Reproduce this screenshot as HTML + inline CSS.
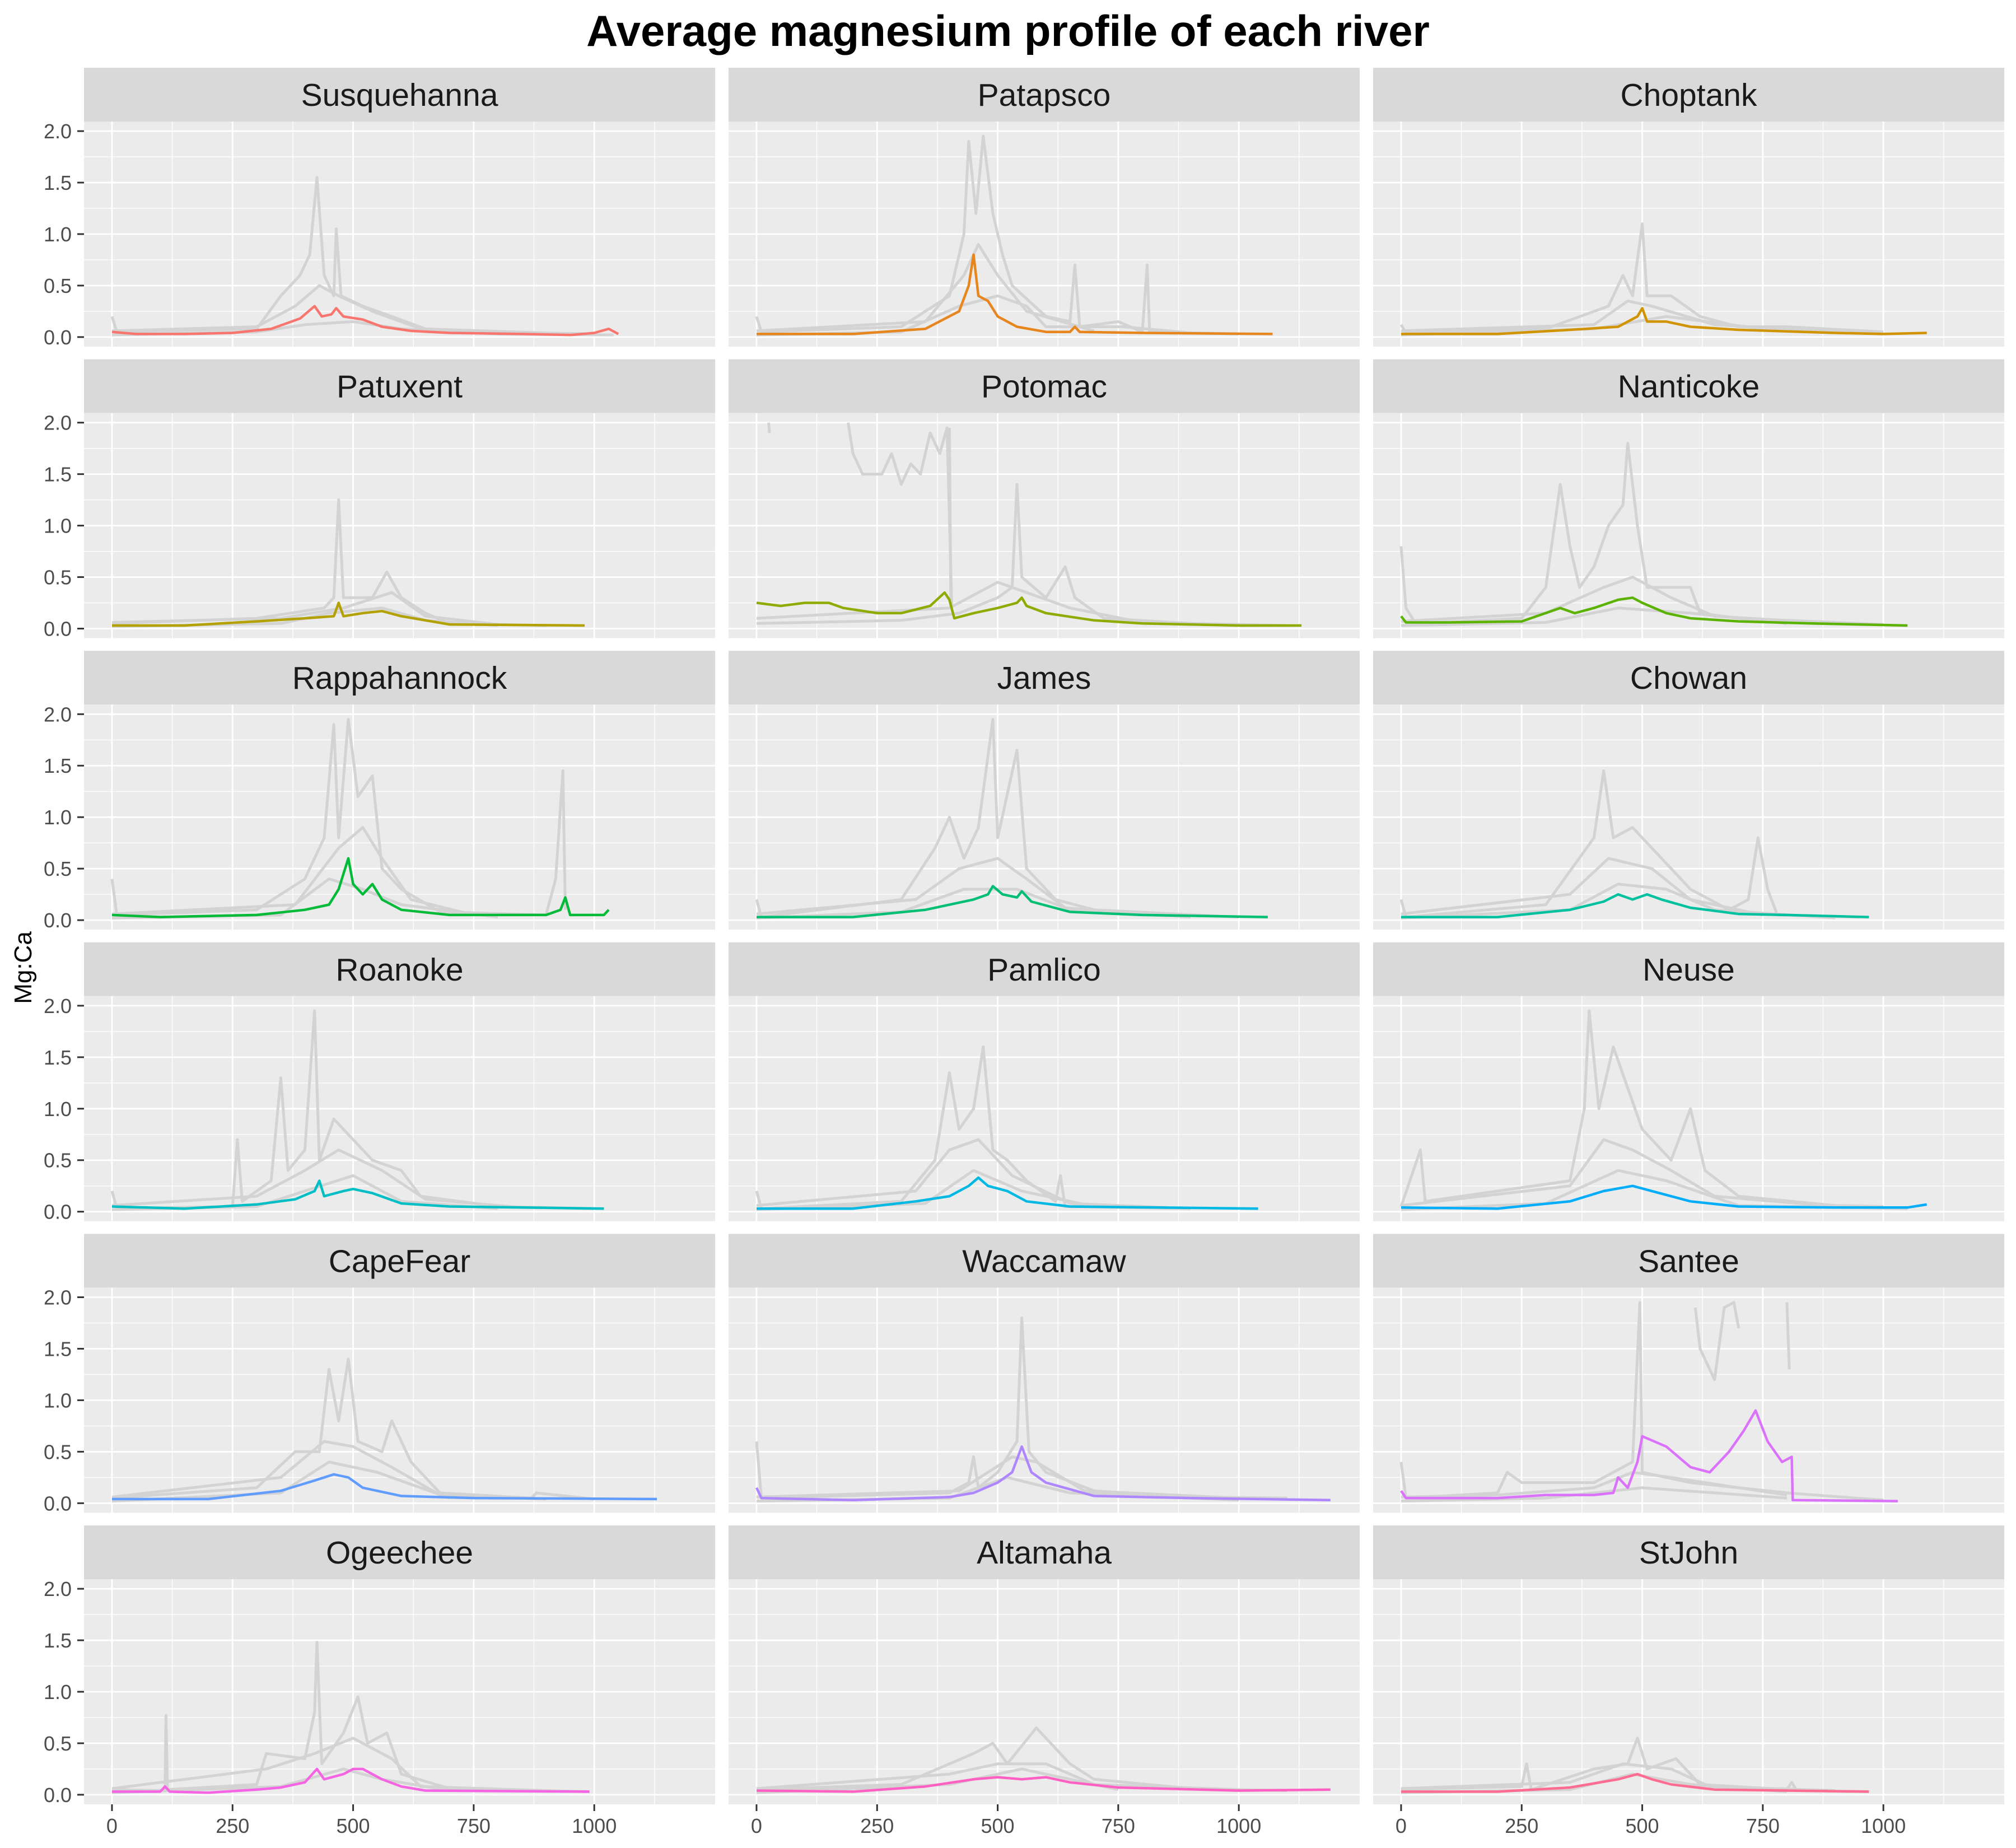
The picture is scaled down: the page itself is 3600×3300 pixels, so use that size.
<!DOCTYPE html>
<html><head><meta charset="utf-8"><style>
html,body{margin:0;padding:0;background:#fff;}
svg{display:block;font-family:"Liberation Sans",sans-serif;}
</style></head><body>
<svg id="chart" width="3600" height="3300" viewBox="0 0 3600 3300" xmlns="http://www.w3.org/2000/svg">
<rect width="3600" height="3300" fill="#fff"/>
<text x="1800" y="82" text-anchor="middle" font-size="78" font-weight="bold" fill="#000">Average magnesium profile of each river</text>
<text transform="translate(56,1728) rotate(-90)" text-anchor="middle" font-size="44" fill="#000">Mg:Ca</text>
<g id="panels"></g>
</svg>
<script>
const rivers = ["Susquehanna","Patapsco","Choptank","Patuxent","Potomac","Nanticoke","Rappahannock","James","Chowan","Roanoke","Pamlico","Neuse","CapeFear","Waccamaw","Santee","Ogeechee","Altamaha","StJohn"];
const riverColors = ["#F8766D","#E7851E","#D09400","#B2A100","#8EAB00","#5BB300","#00BA38","#00BF74","#00C19F","#00BFC4","#00B9E3","#00ADFA","#619CFF","#AE87FF","#DB72FB","#F564E3","#FF61C3","#FF6C91"];
const xTicks = [0,250,500,750,1000];
const xTickLabels = ["0","250","500","750","1000"];
const yTicks = [0,0.5,1,1.5,2];
const yTickLabels = ["0.0","0.5","1.0","1.5","2.0"];
const meanSeries = [
[[0,.05],[50,.03],[150,.03],[250,.04],[330,.08],[390,.18],[420,.3],[435,.2],[455,.22],[465,.28],[480,.2],[520,.17],[560,.1],[620,.06],[700,.04],[850,.03],[950,.02],[1000,.04],[1030,.08],[1050,.03]],
[[0,.03],[200,.03],[350,.08],[420,.25],[440,.5],[450,.8],[460,.4],[480,.35],[500,.2],[540,.1],[600,.05],[650,.05],[660,.1],[670,.05],[800,.04],[1070,.03]],
[[0,.03],[200,.03],[350,.07],[450,.1],[490,.2],[500,.28],[510,.15],[550,.15],[600,.1],[700,.07],[900,.04],[1000,.03],[1090,.04]],
[[0,.03],[150,.03],[300,.07],[400,.1],[460,.12],[470,.25],[480,.12],[520,.15],[560,.17],[600,.12],[700,.04],[980,.03]],
[[0,.25],[50,.22],[100,.25],[150,.25],[180,.2],[250,.15],[300,.15],[360,.22],[390,.35],[400,.28],[410,.1],[450,.15],[500,.2],[540,.25],[550,.3],[560,.22],[600,.15],[700,.08],[800,.05],[1000,.03],[1130,.03]],
[[0,.12],[10,.06],[100,.06],[250,.07],[330,.2],[360,.15],[400,.2],[450,.28],[480,.3],[500,.25],[550,.15],[600,.1],[700,.07],[850,.05],[1050,.03]],
[[0,.05],[100,.03],[300,.05],[400,.1],[450,.15],[470,.3],[490,.6],[500,.35],[520,.25],[540,.35],[560,.2],[600,.1],[700,.05],[900,.05],[930,.1],[940,.22],[950,.05],[1020,.05],[1030,.1]],
[[0,.03],[200,.03],[350,.1],[450,.2],[480,.25],[490,.33],[510,.25],[540,.22],[550,.28],[570,.18],[650,.08],[800,.05],[1060,.03]],
[[0,.03],[200,.03],[350,.1],[420,.18],[450,.25],[480,.2],[510,.25],[540,.2],[600,.12],[700,.06],[800,.05],[970,.03]],
[[0,.05],[150,.03],[300,.07],[380,.12],[420,.2],[430,.3],[440,.15],[480,.2],[500,.22],[540,.18],[600,.08],[700,.05],[1020,.03]],
[[0,.03],[200,.03],[330,.1],[400,.15],[440,.25],[460,.33],[480,.25],[520,.2],[560,.1],[650,.05],[1040,.03]],
[[0,.04],[200,.03],[350,.1],[420,.2],[480,.25],[520,.2],[600,.1],[700,.05],[900,.04],[1050,.04],[1090,.07]],
[[0,.04],[200,.04],[350,.12],[420,.22],[460,.28],[490,.25],[520,.15],[600,.07],[750,.05],[1130,.04]],
[[0,.15],[10,.05],[200,.03],[400,.06],[450,.1],[500,.2],[530,.3],[550,.55],[570,.3],[600,.2],[700,.07],[900,.05],[1190,.03]],
[[0,.12],[10,.05],[200,.05],[300,.08],[400,.08],[440,.1],[450,.25],[470,.15],[490,.4],[500,.65],[550,.55],[600,.35],[640,.3],[680,.5],[710,.7],[735,.9],[760,.6],[790,.4],[810,.45],[812,.03],[1030,.02]],
[[0,.03],[100,.03],[110,.08],[120,.03],[200,.02],[300,.05],[350,.07],[400,.12],[425,.25],[440,.15],[480,.2],[500,.25],[520,.25],[560,.15],[600,.08],[650,.04],[990,.03]],
[[0,.04],[200,.03],[350,.08],[450,.15],[500,.17],[550,.15],[600,.17],[650,.12],[750,.07],[1000,.04],[1190,.05]],
[[0,.03],[200,.03],[350,.07],[450,.15],[490,.2],[520,.15],[560,.1],[650,.05],[970,.03]]
];
const graySeries = [
[[[0,.2],[10,.05],[300,.08],[350,.4],[390,.6],[410,.8],[425,1.55],[440,.6],[460,.4],[465,1.05],[475,.4],[520,.3],[580,.2],[650,.08],[800,.05],[1000,.03]],[[0,.02],[300,.05],[400,.12],[500,.15],[600,.08],[800,.03],[1040,.02]],[[0,.06],[300,.1],[380,.3],[430,.5],[470,.4],[540,.25],[640,.08],[900,.04]]],
[[[0,.2],[10,.05],[300,.1],[400,.4],[430,1.0],[440,1.9],[455,1.2],[470,1.95],[490,1.2],[510,.8],[530,.5],[600,.2],[650,.15],[660,.7],[670,.1],[750,.15],[800,.05],[810,.7],[815,.05],[1000,.03]],[[0,.02],[300,.05],[420,.3],[500,.4],[560,.3],[600,.1],[760,.1],[900,.04]],[[0,.06],[350,.15],[430,.6],[460,.9],[500,.6],[560,.25],[700,.06]]],
[[[0,.12],[10,.04],[300,.08],[430,.3],[460,.6],[480,.4],[500,1.1],[510,.4],[560,.4],[620,.2],[700,.1],[800,.1],[1000,.05]],[[0,.02],[400,.08],[550,.2],[750,.08],[1000,.03]],[[0,.06],[400,.12],[470,.35],[520,.3],[650,.12],[900,.05]]],
[[[0,.05],[300,.1],[440,.2],[460,.3],[470,1.25],[480,.3],[540,.3],[570,.55],[600,.3],[650,.15],[700,.05],[900,.03]],[[0,.02],[350,.05],[450,.15],[560,.2],[650,.08],[800,.03]],[[0,.06],[350,.1],[480,.2],[580,.35],[650,.12],[800,.04]]],
[[[190,2.0],[200,1.7],[220,1.5],[260,1.5],[280,1.7],[300,1.4],[320,1.6],[340,1.5],[360,1.9],[380,1.7],[395,1.95],[405,.2]],[[0,.05],[300,.08],[420,.15],[500,.3],[530,.4],[540,1.4],[550,.5],[600,.3],[640,.6],[660,.3],[720,.1],[900,.05],[1100,.03]],[[400,1.95],[403,.2]],[[25,2.0],[27,1.9]],[[0,.1],[400,.2],[500,.45],[560,.35],[650,.2],[800,.06]]],
[[[0,.8],[10,.2],[30,.05],[250,.1],[300,.4],[330,1.4],[350,.8],[370,.4],[400,.6],[430,1.0],[460,1.2],[470,1.8],[490,1.0],[510,.4],[600,.4],[620,.15],[700,.1],[1000,.04]],[[0,.03],[300,.06],[450,.2],[600,.15],[800,.05]],[[0,.07],[300,.15],[420,.4],[480,.5],[560,.3],[650,.12],[900,.05]]],
[[[0,.4],[10,.05],[300,.1],[400,.4],[440,.8],[460,1.9],[470,.8],[490,1.95],[510,1.2],[540,1.4],[560,.5],[600,.3],[680,.08],[900,.05],[920,.4],[935,1.45],[940,.1]],[[0,.02],[350,.05],[450,.4],[520,.3],[600,.15],[800,.03]],[[0,.06],[380,.15],[470,.7],[520,.9],[560,.6],[620,.2],[750,.05]]],
[[[0,.2],[10,.03],[300,.2],[370,.7],[400,1.0],[430,.6],[460,.9],[490,1.95],[500,.8],[540,1.65],[560,.5],[620,.2],[700,.1],[1000,.03]],[[0,.02],[300,.08],[430,.3],[540,.3],[650,.1],[900,.03]],[[0,.06],[330,.2],[420,.5],[500,.6],[560,.4],[640,.12],[850,.04]]],
[[[0,.2],[10,.03],[300,.15],[400,.8],[420,1.45],[440,.8],[480,.9],[520,.7],[560,.5],[600,.3],[680,.1],[720,.2],[740,.8],[760,.3],[780,.05],[950,.03]],[[0,.02],[350,.1],[450,.35],[550,.3],[650,.1],[900,.02]],[[0,.06],[350,.25],[430,.6],[520,.5],[600,.2],[750,.05]]],
[[[0,.2],[10,.03],[250,.05],[260,.7],[270,.1],[330,.3],[350,1.3],[365,.4],[400,.6],[420,1.95],[430,.5],[460,.9],[500,.7],[540,.5],[600,.4],[640,.15],[800,.05],[1000,.03]],[[0,.02],[300,.05],[400,.2],[500,.35],[600,.1],[800,.03]],[[0,.06],[300,.15],[400,.4],[470,.6],[560,.4],[650,.12],[850,.04]]],
[[[0,.2],[10,.03],[300,.1],[370,.5],[400,1.35],[420,.8],[450,1.0],[470,1.6],[490,.6],[520,.5],[560,.3],[620,.1],[630,.35],[640,.05],[900,.03]],[[0,.02],[350,.08],[450,.4],[550,.2],[700,.05]],[[0,.06],[330,.2],[400,.6],[460,.7],[530,.35],[650,.08],[850,.04]]],
[[[0,.05],[40,.6],[50,.1],[350,.3],[380,1.0],[390,1.95],[410,1.0],[440,1.6],[470,1.2],[500,.8],[560,.5],[600,1.0],[630,.4],[700,.15],[900,.06],[1000,.05]],[[0,.02],[300,.08],[450,.4],[550,.3],[700,.06],[1050,.03]],[[0,.06],[350,.25],[420,.7],[480,.6],[560,.4],[650,.15],[900,.05]]],
[[[0,.05],[300,.15],[380,.5],[430,.5],[450,1.3],[470,.8],[490,1.4],[510,.6],[560,.5],[580,.8],[620,.4],[680,.1],[870,.05],[880,.1],[1000,.04]],[[0,.02],[350,.1],[450,.4],[550,.3],[700,.05]],[[0,.06],[350,.25],[440,.6],[500,.55],[580,.35],[680,.08],[900,.04]]],
[[[0,.6],[10,.05],[400,.1],[440,.2],[450,.45],[460,.15],[500,.3],[540,.6],[550,1.8],[565,.5],[600,.3],[700,.12],[900,.06],[1100,.05]],[[0,.02],[400,.05],[520,.25],[650,.1],[1000,.03]],[[0,.06],[420,.12],[530,.45],[580,.4],[680,.12],[1000,.05]]],
[[[0,.4],[10,.05],[200,.1],[220,.3],[250,.2],[400,.2],[480,.4],[495,1.95],[500,.3],[600,.2],[800,.1],[1000,.03]],[[610,1.9],[620,1.5],[650,1.2],[670,1.9],[690,1.95],[700,1.7]],[[800,1.95],[805,1.3]],[[0,.02],[300,.05],[500,.15],[800,.05]],[[0,.06],[200,.08],[400,.15],[480,.3],[560,.25],[700,.15],[800,.08]]],
[[[0,.05],[110,.04],[112,.77],[115,.05],[300,.1],[320,.4],[400,.35],[420,.8],[425,1.48],[435,.3],[480,.6],[510,.95],[530,.5],[570,.6],[600,.2],[700,.06],[990,.03]],[[0,.02],[350,.08],[480,.25],[560,.15],[700,.04]],[[0,.06],[320,.25],[420,.4],[500,.55],[580,.35],[640,.08],[900,.04]]],
[[[0,.05],[300,.1],[450,.4],[490,.5],[520,.3],[580,.65],[610,.5],[650,.3],[700,.15],[900,.06],[1100,.04]],[[0,.02],[400,.1],[550,.25],[750,.05]],[[0,.06],[400,.2],[500,.3],[600,.3],[700,.1],[1000,.05]]],
[[[0,.05],[250,.08],[260,.3],[270,.05],[400,.25],[470,.3],[490,.55],[510,.25],[570,.35],[620,.1],[800,.05],[810,.12],[820,.04],[970,.03]],[[0,.02],[350,.05],[480,.2],[600,.1],[800,.03]],[[0,.06],[350,.12],[460,.3],[560,.25],[640,.08],[900,.04]]]
];

const NS = "http://www.w3.org/2000/svg";
const root = document.getElementById("panels");
const PW = 1127, PH = 402, SH = 96;
const X0 = -58, X1 = 1250.6, Y0 = -0.093, Y1 = 2.093;
function mk(tag, attrs, parent){const e=document.createElementNS(NS,tag);for(const k in attrs)e.setAttribute(k,attrs[k]);parent.appendChild(e);return e;}
function sx(v){return (v-X0)/(X1-X0)*PW;}
function sy(v){return PH-(v-Y0)/(Y1-Y0)*PH;}
function pts(arr){return arr.map(p=>sx(p[0]).toFixed(1)+","+sy(p[1]).toFixed(1)).join(" ");}

rivers.forEach((name,i)=>{
  const c=i%3, r=Math.floor(i/3);
  const left=150+1151*c, stripTop=121+520.6*r;
  const g=mk("g",{transform:"translate("+left+","+stripTop+")"},root);
  
  
  const strip=mk("rect",{x:0,y:0,width:PW,height:SH,fill:"#D9D9D9"},g);
  
  
  const st=mk("text",{x:PW/2,y:SH/2+20,"text-anchor":"middle","font-size":"57",fill:"#1A1A1A"},g);
  st.textContent=name;
  
  
  const p=mk("g",{transform:"translate(0,"+SH+")"},g);
  
  
  mk("rect",{x:0,y:0,width:PW,height:PH,fill:"#EBEBEB"},p);
  [0.25,0.75,1.25,1.75].forEach(v=>mk("line",{x1:0,x2:PW,y1:sy(v),y2:sy(v),stroke:"#fff","stroke-width":1.3},p));
  [125,375,625,875,1125].forEach(v=>mk("line",{y1:0,y2:PH,x1:sx(v),x2:sx(v),stroke:"#fff","stroke-width":1.3},p));
  yTicks.forEach(v=>mk("line",{x1:0,x2:PW,y1:sy(v),y2:sy(v),stroke:"#fff","stroke-width":2.8},p));
  xTicks.forEach(v=>mk("line",{y1:0,y2:PH,x1:sx(v),x2:sx(v),stroke:"#fff","stroke-width":2.8},p));
  graySeries[i].forEach(s=>{
    const l=mk("polyline",{points:pts(s),fill:"none",stroke:"#D3D3D3","stroke-width":5,"stroke-linejoin":"round"},p);
    
    
  });
  const m=mk("polyline",{points:pts(meanSeries[i]),fill:"none",stroke:riverColors[i],"stroke-width":4.5,"stroke-linejoin":"round"},p);
  
  
  if(c===0){
    yTicks.forEach((v,k)=>{
      mk("line",{x1:-12,x2:0,y1:sy(v),y2:sy(v),stroke:"#333","stroke-width":3},p);
      const t=mk("text",{x:-22,y:sy(v)+13,"text-anchor":"end","font-size":"36",fill:"#4D4D4D"},p);
      t.textContent=yTickLabels[k];
      
      
    });
  }
  if(r===5){
    xTicks.forEach((v,k)=>{
      mk("line",{x1:sx(v),x2:sx(v),y1:PH,y2:PH+12,stroke:"#333","stroke-width":3},p);
      const t=mk("text",{x:sx(v),y:PH+51,"text-anchor":"middle","font-size":"36",fill:"#4D4D4D"},p);
      t.textContent=xTickLabels[k];
      
      
    });
  }
});
</script>
</body></html>
